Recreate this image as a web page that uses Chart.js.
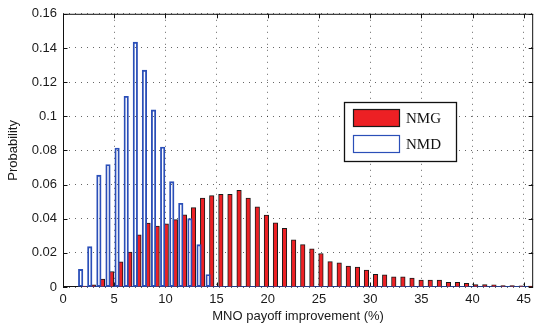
<!DOCTYPE html>
<html>
<head>
<meta charset="utf-8">
<script src="https://cdn.jsdelivr.net/npm/chart.js@4.4.1/dist/chart.umd.min.js"></script>
<style>
  html, body { margin: 0; padding: 0; background: #fff; }
</style>
</head>
<body>
<canvas id="myChart" width="536" height="326"></canvas>
<script>
// centros de los 50 intervalos del histograma (% de mejora)
const binCenters = [1.90, 2.79, 3.68, 4.57, 5.46, 6.35, 7.24, 8.13, 9.02, 9.91,
                    10.80, 11.68, 12.57, 13.46, 14.35, 15.24, 16.13, 17.02, 17.91, 18.80,
                    19.69, 20.57, 21.46, 22.35, 23.24, 24.13, 25.02, 25.91, 26.80, 27.69,
                    28.58, 29.46, 30.35, 31.24, 32.13, 33.02, 33.91, 34.80, 35.69, 36.58,
                    37.47, 38.35, 39.24, 40.13, 41.02, 41.91, 42.80, 43.69, 44.58, 45.47];

const nmg = [0.0006, 0.0012, 0.0047, 0.0091, 0.0148, 0.0204, 0.0306, 0.0374, 0.0357, 0.0370,
             0.0395, 0.0423, 0.0465, 0.0521, 0.0535, 0.0542, 0.0542, 0.0566, 0.0521, 0.0469,
             0.0421, 0.0376, 0.0343, 0.0276, 0.0248, 0.0223, 0.0196, 0.0149, 0.0142, 0.0122,
             0.0116, 0.0099, 0.0074, 0.0072, 0.0060, 0.0060, 0.0052, 0.0041, 0.0041, 0.0041,
             0.0028, 0.0028, 0.0021, 0.0014, 0.0014, 0.0013, 0.0009, 0.0008, 0.0007, 0.0005];

const nmd = [0.0103, 0.0236, 0.0655, 0.0717, 0.0814, 0.1117, 0.1434, 0.1270, 0.1037, 0.0820,
             0.0617, 0.0490, 0.0400, 0.0248, 0.0073, 0, 0, 0, 0, 0,
             0, 0, 0, 0, 0, 0, 0, 0, 0, 0,
             0, 0, 0, 0, 0, 0, 0, 0, 0, 0,
             0, 0, 0, 0, 0, 0, 0, 0, 0, 0];

const xTicks = [0, 5, 10, 15, 20, 25, 30, 35, 40, 45];
const yTicks = [0, 0.02, 0.04, 0.06, 0.08, 0.1, 0.12, 0.14, 0.16];
const xMax = 45.92;
const yMax = 0.16;

const rojo = '#ed2024';
const azul = '#2b4fb8';

// marco negro y marcas hacia dentro, estilo matlab
const marcoPlugin = {
    id: 'marco',
    beforeDatasetsDraw(chart) {
        const { ctx, chartArea: a, scales: { x, y } } = chart;
        const largo = 4.5;
        ctx.save();
        ctx.strokeStyle = '#111';
        ctx.lineWidth = 1;
        ctx.strokeRect(a.left + 0.5, a.top + 0.5, a.right - a.left - 1, a.bottom - a.top - 1);
        ctx.beginPath();
        xTicks.forEach(v => {
            const px = Math.round(x.getPixelForValue(v)) + 0.5;
            ctx.moveTo(px, a.bottom); ctx.lineTo(px, a.bottom - largo);
            ctx.moveTo(px, a.top); ctx.lineTo(px, a.top + largo);
        });
        yTicks.forEach(v => {
            const py = Math.round(y.getPixelForValue(v)) + 0.5;
            ctx.moveTo(a.left, py); ctx.lineTo(a.left + largo, py);
            ctx.moveTo(a.right, py); ctx.lineTo(a.right - largo, py);
        });
        ctx.stroke();
        ctx.restore();
    }
};

const leyendaPlugin = {
    id: 'leyenda',
    afterDraw(chart) {
        const ctx = chart.ctx;
        const caja = { x: 344, y: 102, w: 112, h: 59 };
        ctx.save();
        ctx.fillStyle = '#fff';
        ctx.fillRect(caja.x, caja.y, caja.w, caja.h);
        ctx.strokeStyle = '#111';
        ctx.lineWidth = 1.3;
        ctx.strokeRect(caja.x + 0.5, caja.y + 0.5, caja.w, caja.h);
        const entradas = [chart.data.datasets[1], chart.data.datasets[0]];
        entradas.forEach((ds, i) => {
            const top = caja.y + 7 + i * 26;
            ctx.fillStyle = ds.backgroundColor;
            ctx.fillRect(353, top, 47, 18);
            ctx.strokeStyle = ds.borderColor;
            ctx.lineWidth = 1.2;
            ctx.strokeRect(353.5, top + 0.5, 46, 17);
            ctx.fillStyle = '#111';
            ctx.font = '15px "Liberation Serif"';
            ctx.textBaseline = 'middle';
            ctx.fillText(ds.label, 406, top + 10);
        });
        ctx.restore();
    }
};

Chart.defaults.font.family = '"Liberation Sans", Arial, sans-serif';
Chart.defaults.font.size = 13;
Chart.defaults.color = '#1a1a1a';

const config = {
    type: 'bar',
    data: {
        datasets: [
            {
                label: 'NMD',
                data: binCenters.map((c, i) => ({ x: c, y: nmd[i] })),
                backgroundColor: 'rgba(255,255,255,0)',
                borderColor: azul,
                borderWidth: 1.2,
                borderSkipped: false,
                categoryPercentage: 0.8,
                barPercentage: 1.25
            },
            {
                label: 'NMG',
                data: binCenters.map((c, i) => ({ x: c, y: nmg[i] })),
                backgroundColor: rojo,
                borderColor: '#1a1a1a',
                borderWidth: 1,
                categoryPercentage: 0.8,
                barPercentage: 1.25
            },
            {
                // contorno azul de las barras NMD vacias sobre el eje
                type: 'line',
                label: 'base',
                data: binCenters.map(c => ({ x: c, y: 0 })),
                borderColor: azul,
                borderWidth: 1.5,
                pointRadius: 0
            }
        ]
    },
    options: {
        responsive: false,
        animation: false,
        devicePixelRatio: 1,
        layout: { padding: { top: 12, right: 1, left: 0, bottom: 0 } },
        plugins: {
            legend: { display: false },
            tooltip: { enabled: false }
        },
        scales: {
            x: {
                type: 'linear',
                min: 0,
                max: xMax,
                offset: false,
                afterBuildTicks: s => { s.ticks = xTicks.map(v => ({ value: v })); },
                afterFit: s => { s.height = 39; },
                grid: {
                    offset: false,
                    drawTicks: false,
                    color: 'rgba(0,0,0,0.6)',
                    lineWidth: 1
                },
                border: { display: false, dash: [1, 5] },
                ticks: { padding: 5, maxRotation: 0, callback: v => v.toString() },
                title: { display: true, text: 'MNO payoff improvement (%)', padding: { top: 0, bottom: 2 } }
            },
            y: {
                min: 0,
                max: yMax,
                afterBuildTicks: s => { s.ticks = yTicks.map(v => ({ value: v })); },
                afterFit: s => { s.width = 63; },
                grid: {
                    drawTicks: false,
                    color: 'rgba(0,0,0,0.6)',
                    lineWidth: 1
                },
                border: { display: false, dash: [1, 5] },
                ticks: { padding: 6, callback: v => v.toString() },
                title: { display: true, text: 'Probability', padding: { top: 6, bottom: 0 } }
            }
        }
    },
    plugins: [marcoPlugin, leyendaPlugin]
};

new Chart(document.getElementById('myChart'), config);
</script>
</body>
</html>
